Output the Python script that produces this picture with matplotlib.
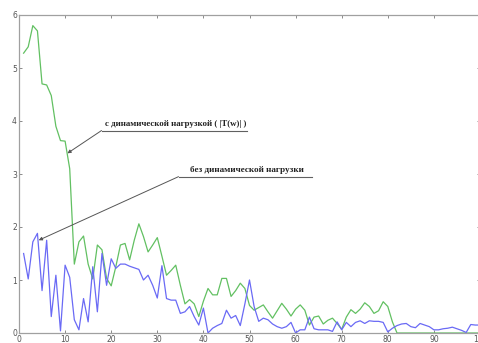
import numpy as np
import matplotlib
matplotlib.use("Agg")
import matplotlib.pyplot as plt

x = list(range(1, 101))

green = [5.28, 5.40, 5.80, 5.70, 4.70, 4.68, 4.48, 3.90, 3.63, 3.62,
         3.10, 1.30, 1.72, 1.83, 1.30, 1.02, 1.66, 1.57, 1.03, 0.89,
         1.25, 1.66, 1.69, 1.38, 1.75, 2.06, 1.82, 1.53, 1.66, 1.80,
         1.45, 1.09, 1.18, 1.28, 0.90, 0.55, 0.63, 0.55, 0.31, 0.60,
         0.84, 0.72, 0.72, 1.03, 1.03, 0.69, 0.80, 0.94, 0.84, 0.52,
         0.43, 0.48, 0.53, 0.40, 0.28, 0.42, 0.56, 0.45, 0.32, 0.45,
         0.53, 0.43, 0.15, 0.30, 0.32, 0.17, 0.24, 0.28, 0.18, 0.07,
         0.30, 0.44, 0.37, 0.45, 0.57, 0.50, 0.37, 0.42, 0.59, 0.50,
         0.21, 0.00, 0.00, 0.00, 0.00, 0.00, 0.00, 0.00, 0.00, 0.00,
         0.00, 0.00, 0.00, 0.00, 0.00, 0.00, 0.00, 0.00, 0.00, 0.00]

blue = [1.50, 1.02, 1.72, 1.88, 0.80, 1.75, 0.31, 1.09, 0.04, 1.28,
        1.05, 0.25, 0.06, 0.65, 0.21, 1.25, 0.40, 1.50, 0.90, 1.40,
        1.22, 1.30, 1.30, 1.26, 1.23, 1.20, 1.00, 1.09, 0.90, 0.66,
        1.27, 0.65, 0.62, 0.62, 0.37, 0.40, 0.50, 0.31, 0.15, 0.47,
        0.00, 0.09, 0.14, 0.18, 0.43, 0.28, 0.33, 0.14, 0.55, 1.00,
        0.50, 0.22, 0.28, 0.25, 0.17, 0.12, 0.09, 0.12, 0.20, 0.00,
        0.06, 0.06, 0.30, 0.08, 0.06, 0.06, 0.06, 0.03, 0.21, 0.06,
        0.20, 0.12, 0.20, 0.23, 0.18, 0.23, 0.22, 0.22, 0.20, 0.02,
        0.09, 0.14, 0.17, 0.18, 0.12, 0.10, 0.18, 0.15, 0.12, 0.06,
        0.06, 0.08, 0.09, 0.11, 0.08, 0.05, 0.01, 0.16, 0.15, 0.15]

xticks = list(range(0, 101, 10))
yticks = list(range(0, 7))

label_green = "с динамической нагрузкой ( |T(w)| )"
label_blue = "без динамической нагрузки"

fig = plt.figure(figsize=(4.78, 3.43), dpi=100)
fig.patch.set_facecolor("white")
ax = fig.add_axes([19 / 478, 1 - 333 / 343, (480 - 19) / 478, 318 / 343])

ax.plot(x, green, color="#62c062", lw=0.9)
ax.plot(x, blue, color="#6a6af5", lw=0.9)

ax.set_xlim(0, 100)
ax.set_ylim(0, 6)
ax.set_xticks(xticks)
ax.set_yticks(yticks)
ax.tick_params(direction="in", length=2.5, width=0.6, colors="#777777",
               labelsize=5.5, pad=1.5, top=True, right=True)
ax.tick_params(axis="x", labelcolor="#555555")
ax.tick_params(axis="y", labelcolor="#555555", pad=1.5)
for s in ax.spines.values():
    s.set_color("#a0a0a0")
    s.set_linewidth(0.9)

# annotations
ann = [
    (label_green, (10.5, 3.39), (17.9, 49.4, 3.82), 6.4),
    (label_blue, (4.27, 1.75), (34.6, 63.5, 2.95), 6.6),
]
for text, tip, (x0, x1, yl), fs in ann:
    ax.plot([x0, x1], [yl, yl], color="#606060", lw=0.8)
    ax.annotate("", xy=tip, xytext=(x0, yl),
                arrowprops=dict(arrowstyle="-|>", color="#555555", lw=0.7,
                                mutation_scale=5, shrinkA=0, shrinkB=0))
    ax.text((x0 + x1) / 2 + 0.3, yl + 0.05, text, ha="center", va="bottom",
            fontsize=fs, fontweight="bold", family="Liberation Serif",
            color="#222222")

fig.savefig("out.png", dpi=100, facecolor="white")
